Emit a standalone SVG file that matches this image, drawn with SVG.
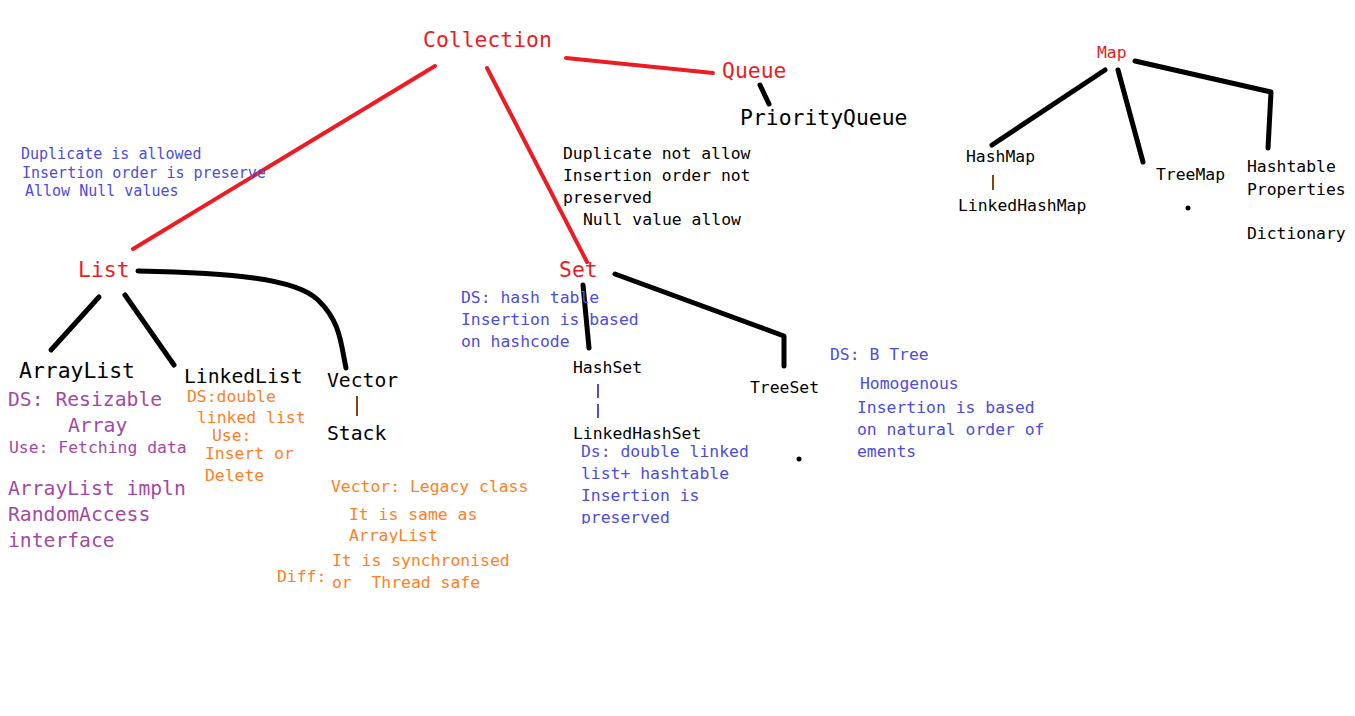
<svg xmlns="http://www.w3.org/2000/svg" width="1355" height="716" viewBox="0 0 1355 716">
<defs>
<style>
text{font-family:"DejaVu Sans Mono","Liberation Mono",monospace;white-space:pre}
.red{fill:#ed1c24}.blk{fill:#000}.blu{fill:#4d4ddb}.pur{fill:#a349a4}.org{fill:#ff7f27}
.big{font-size:21.4px}.mid{font-size:19.7px}.sm{font-size:16.4px}.xs{font-size:15px}
.rl{stroke:#ed1c24;stroke-width:4;fill:none;stroke-linecap:round}
.bl{stroke:#000;stroke-width:5;fill:none;stroke-linecap:round;stroke-linejoin:round}
.br{stroke:#7a4a10;stroke-width:2;fill:none}
.bb{stroke:#4d4ddb;stroke-width:2;fill:none}
</style>
<clipPath id="c1"><rect x="300" y="500" width="300" height="43"/></clipPath>
<clipPath id="c2"><rect x="560" y="440" width="250" height="84"/></clipPath>
</defs>
<rect width="1355" height="716" fill="#fff"/>
<g id="connectors">
<line class="rl" x1="435" y1="66" x2="133" y2="249"/>
<line class="rl" x1="487" y1="68" x2="587" y2="262"/>
<line class="rl" x1="566" y1="58" x2="713" y2="73"/>
<line class="bl" x1="760" y1="85" x2="769" y2="104"/>
<line class="bl" x1="99" y1="297" x2="51" y2="350"/>
<line class="bl" x1="125" y1="295" x2="174" y2="365"/>
<path class="bl" d="M138,271 C230,273 295,278 318,300 S341,345 346,368"/>
<line class="br" x1="357" y1="396" x2="357" y2="416"/>
<line class="bl" x1="583" y1="285" x2="589" y2="348"/>
<polyline class="bl" points="615,274 784,336 784,366"/>
<line class="bb" x1="598" y1="384" x2="598" y2="398"/>
<line class="bb" x1="598" y1="404" x2="598" y2="418"/>
<line class="br" x1="993" y1="175" x2="993" y2="190"/>
<line class="bl" x1="1105" y1="70" x2="992" y2="145"/>
<line class="bl" x1="1118" y1="70" x2="1143" y2="162"/>
<polyline class="bl" points="1135,61 1271,92 1268,148"/>
<circle cx="1188" cy="208" r="2.5" fill="#000"/>
<circle cx="799" cy="459" r="2.5" fill="#000"/>
</g>
<g id="collection"><text class="red big" x="423" y="47">Collection</text></g>
<g id="queue"><text class="red big" x="722" y="78">Queue</text></g>
<g id="priorityqueue"><text class="blk big" x="740" y="125">PriorityQueue</text></g>
<g id="list-notes">
<text class="blu xs" x="21" y="159">Duplicate is allowed</text>
<text class="blu xs" x="22" y="178">Insertion order is preserve</text>
<text class="blu xs" x="25" y="196">Allow Null values</text>
</g>
<g id="set-notes">
<text class="blk sm" x="563" y="159">Duplicate not allow</text>
<text class="blk sm" x="563" y="181">Insertion order not</text>
<text class="blk sm" x="563" y="203">preserved</text>
<text class="blk sm" x="583" y="225">Null value allow</text>
</g>
<g id="list"><text class="red big" x="78" y="277">List</text></g>
<g id="set"><text class="red big" x="559" y="277">Set</text></g>
<g id="arraylist">
<text class="blk big" x="19" y="378">ArrayList</text>
<text class="pur mid" x="8" y="406">DS: Resizable</text>
<text class="pur mid" x="68" y="432">Array</text>
<text class="pur sm" x="9" y="453">Use: Fetching data</text>
<text class="pur mid" x="8" y="495">ArrayList impln</text>
<text class="pur mid" x="8" y="521">RandomAccess</text>
<text class="pur mid" x="8" y="547">interface</text>
</g>
<g id="linkedlist">
<text class="blk mid" x="184" y="383">LinkedList</text>
<text class="org sm" x="187" y="402">DS:double</text>
<text class="org sm" x="197" y="423">linked list</text>
<text class="org sm" x="212" y="441">Use:</text>
<text class="org sm" x="205" y="459">Insert or</text>
<text class="org sm" x="205" y="481">Delete</text>
</g>
<g id="vector">
<text class="blk mid" x="327" y="387">Vector</text>
<text class="org sm" x="331" y="492">Vector: Legacy class</text>
<text class="org sm" x="349" y="520">It is same as</text>
<text class="org sm" x="349" y="541" clip-path="url(#c1)">ArrayList</text>
<text class="org sm" x="332" y="566">It is synchronised</text>
<text class="org sm" x="332" y="588">or  Thread safe</text>
<text class="org sm" x="277" y="582">Diff:</text>
</g>
<g id="stack"><text class="blk mid" x="327" y="440">Stack</text></g>
<g id="hashset">
<text class="blu sm" x="461" y="303">DS: hash table</text>
<text class="blu sm" x="461" y="325">Insertion is based</text>
<text class="blu sm" x="461" y="347">on hashcode</text>
<text class="blk sm" x="573" y="373">HashSet</text>
</g>
<g id="linkedhashset">
<text class="blk sm" x="573" y="439">LinkedHashSet</text>
<text class="blu sm" x="581" y="457">Ds: double linked</text>
<text class="blu sm" x="581" y="479">list+ hashtable</text>
<text class="blu sm" x="581" y="501">Insertion is</text>
<text class="blu sm" x="581" y="523" clip-path="url(#c2)">preserved</text>
</g>
<g id="treeset">
<text class="blk sm" x="750" y="393">TreeSet</text>
<text class="blu sm" x="830" y="360">DS: B Tree</text>
<text class="blu sm" x="860" y="389">Homogenous</text>
<text class="blu sm" x="857" y="413">Insertion is based</text>
<text class="blu sm" x="857" y="435">on natural order of</text>
<text class="blu sm" x="857" y="457">ements</text>
</g>
<g id="map"><text class="red sm" x="1097" y="58">Map</text></g>
<g id="hashmap"><text class="blk sm" x="966" y="162">HashMap</text></g>
<g id="linkedhashmap"><text class="blk sm" x="958" y="211">LinkedHashMap</text></g>
<g id="treemap"><text class="blk sm" x="1156" y="180">TreeMap</text></g>
<g id="hashtable">
<text class="blk sm" x="1247" y="172">Hashtable</text>
<text class="blk sm" x="1247" y="195">Properties</text>
<text class="blk sm" x="1247" y="239">Dictionary</text>
</g>
</svg>
